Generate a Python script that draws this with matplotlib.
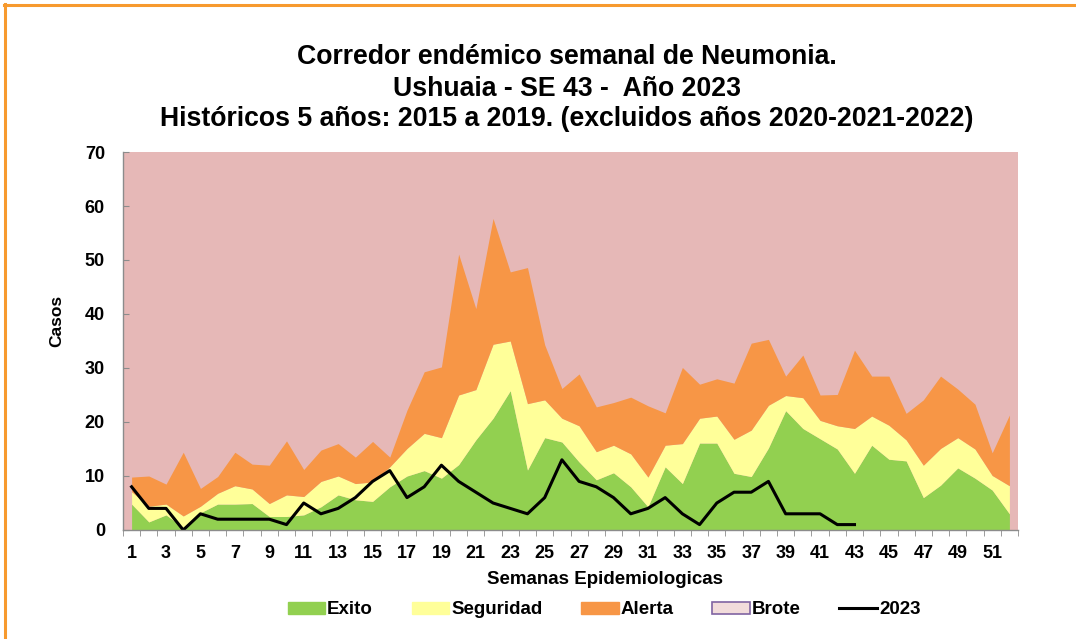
import matplotlib
matplotlib.use("Agg")
import matplotlib.pyplot as plt
from matplotlib.patches import Patch
from matplotlib.lines import Line2D

plt.rcParams['font.family'] = ['Liberation Sans', 'DejaVu Sans']
plt.rcParams['font.weight'] = 'bold'

# semanas epidemiologicas
semanas = list(range(1, 53))

# limites del corredor (valores acumulados)
exito = [4.8, 1.5, 2.8, 0.5, 3.2, 4.8, 4.8, 4.9, 2.5, 2.5, 2.8, 4.3, 6.5,
         5.6, 5.3, 8.0, 10.0, 11.0, 9.6, 12.1, 16.7, 20.7, 25.8, 11.1, 17.1, 16.3,
         12.6, 9.3, 10.6, 8.0, 4.3, 11.7, 8.6, 16.1, 16.1, 10.5, 9.9, 15.2, 22.1,
         18.8, 16.9, 15.0, 10.5, 15.7, 13.1, 12.8, 6.0, 8.3, 11.5, 9.6, 7.4, 3.0]
seguridad = [7.1, 4.4, 4.8, 2.6, 4.4, 6.8, 8.2, 7.6, 4.9, 6.5, 6.2, 9.0, 10.0,
             8.6, 8.9, 11.7, 15.1, 17.9, 17.1, 25.0, 26.0, 34.4, 35.0, 23.4, 24.1, 20.7,
             19.3, 14.5, 15.7, 14.1, 9.8, 15.7, 16.0, 20.7, 21.1, 16.8, 18.5, 23.1, 24.9,
             24.5, 20.3, 19.3, 18.8, 21.1, 19.4, 16.7, 12.0, 15.1, 17.1, 15.0, 10.1, 8.2]
alerta = [9.8, 10.0, 8.5, 14.4, 7.7, 9.9, 14.4, 12.2, 12.0, 16.5, 11.2, 14.8, 16.0,
          13.5, 16.4, 13.5, 22.2, 29.3, 30.2, 51.1, 41.0, 57.7, 47.8, 48.6, 34.3, 26.2,
          28.9, 22.8, 23.6, 24.6, 23.0, 21.7, 30.1, 27.0, 28.0, 27.2, 34.6, 35.3, 28.5,
          32.4, 25.0, 25.1, 33.3, 28.5, 28.5, 21.6, 24.1, 28.5, 26.1, 23.3, 14.3, 21.3]

# casos 2023 hasta la SE 43
casos_2023 = [8, 4, 4, 0, 3, 2, 2, 2, 2, 1, 5, 3, 4, 6, 9, 11, 6, 8, 12, 9, 7, 5,
              4, 3, 6, 13, 9, 8, 6, 3, 4, 6, 3, 1, 5, 7, 7, 9, 3, 3, 3, 1, 1]

verde = '#92D050'
amarillo = '#FFFF99'
naranja = '#F79646'
rosa = '#E6B8B7'

fig = plt.figure(figsize=(10.76, 6.39), dpi=100)
ax = fig.add_axes([123 / 1076, 1 - 530 / 639, (1018 - 123) / 1076, (530 - 152) / 639])
ax.set_facecolor(rosa)

ax.fill_between(semanas, 0, exito, color=verde, lw=0)
ax.fill_between(semanas, exito, seguridad, color=amarillo, lw=0)
ax.fill_between(semanas, seguridad, alerta, color=naranja, lw=0)
ax.plot(semanas[:len(casos_2023)], casos_2023, color='black', lw=2.2)

ax.set_xlim(0.5, 52.5)
ax.set_ylim(0, 70)

# ejes
for s in ['top', 'right']:
    ax.spines[s].set_visible(False)
for s in ['left', 'bottom']:
    ax.spines[s].set_color('#8c8c8c')
    ax.spines[s].set_linewidth(1)

ax.set_yticks(range(0, 71, 10))
ax.tick_params(axis='y', direction='in', length=4, color='#8c8c8c', pad=13, labelsize=13)
ax.set_xticks(semanas[::2])
ax.set_xticks([w + 0.5 for w in range(0, 53)], minor=True)
ax.tick_params(axis='x', which='major', length=0, pad=10.5, labelsize=13)
ax.tick_params(axis='x', which='minor', direction='out', length=4.5, color='#8c8c8c')
for lab in ax.get_xticklabels() + ax.get_yticklabels():
    lab.set_fontweight('bold')

# titulos
tam_titulo = 19.2
fig.text(567 / 1076, 1 - 57 / 639, 'Corredor endémico semanal de Neumonia.',
         ha='center', va='center', fontsize=tam_titulo, fontweight='bold')
fig.text(567 / 1076, 1 - 89 / 639, 'Ushuaia - SE 43 -  Año 2023',
         ha='center', va='center', fontsize=tam_titulo, fontweight='bold')
fig.text(567 / 1076, 1 - 119 / 639, 'Históricos 5 años: 2015 a 2019. (excluidos años 2020-2021-2022)',
         ha='center', va='center', fontsize=tam_titulo, fontweight='bold')

fig.text(57 / 1076, 1 - 321 / 639, 'Casos', rotation=90, ha='center', va='center',
         fontsize=12.5, fontweight='bold')
fig.text(605 / 1076, 1 - 580 / 639, 'Semanas Epidemiologicas', ha='center', va='center',
         fontsize=13.5, fontweight='bold')

handles = [Patch(facecolor=verde, edgecolor=verde),
           Patch(facecolor=amarillo, edgecolor=amarillo),
           Patch(facecolor=naranja, edgecolor=naranja),
           Patch(facecolor='#F2DCDB', edgecolor='#8064A2', lw=1.2),
           Line2D([], [], color='black', lw=2.2)]
labels = ['Exito', 'Seguridad', 'Alerta', 'Brote', '2023']
fig.legend(handles, labels, loc='center', bbox_to_anchor=(604 / 1076, 1 - 610 / 639),
           ncol=5, frameon=False, handlelength=2.0, handleheight=0.55,
           handletextpad=0.12, columnspacing=2.05, prop={'weight': 'bold', 'size': 13.5})

# marco naranja
fig.add_artist(Line2D([4 / 1076, 1], [1 - 4.5 / 639, 1 - 4.5 / 639], color='#F79A2E', lw=2.2))
fig.add_artist(Line2D([5 / 1076, 5 / 1076], [1 - 4 / 639, 0], color='#F79A2E', lw=2.2))

fig.savefig('out.png', dpi=100)
